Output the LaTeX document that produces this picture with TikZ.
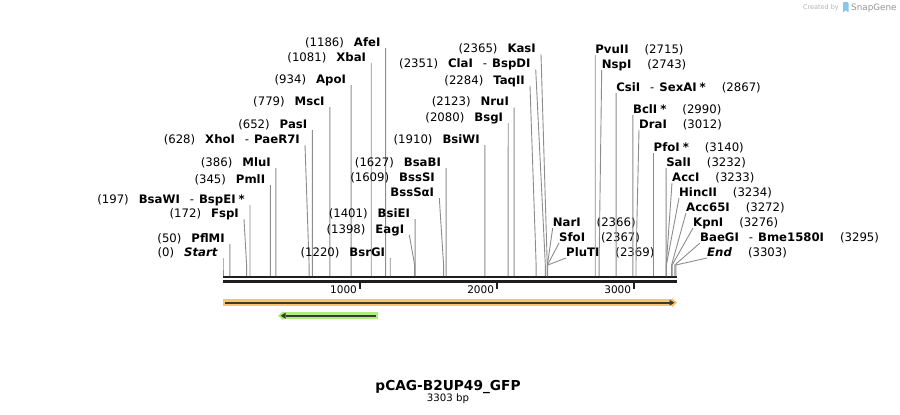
\documentclass[tikz,border=0pt]{standalone}
\usepackage{fontspec}
\setmainfont{DejaVu Sans}
\usepackage{tikz}
\usetikzlibrary{positioning}
\usetikzlibrary{arrows.meta}
\definecolor{mapblack}{HTML}{1E1E1E}
\definecolor{cutgray}{HTML}{8C8C8C}
\definecolor{orangeglow}{HTML}{F9C46C}
\definecolor{greenglow}{HTML}{A9EF7F}
\definecolor{featline}{HTML}{3C3A32}
\definecolor{snapblue}{HTML}{86C5EE}
\newcommand{\alsocut}{\hspace{10pt}\textmd{-}\hspace{5pt}}
\newcommand{\starred}{\hspace{3pt}*}
\tikzstyle{leftsite}=[anchor=base east,inner xsep=5pt,inner ysep=0pt,font=\fontsize{11.7}{13}\selectfont]
\tikzstyle{rightsite}=[anchor=base west,inner sep=0pt,font=\fontsize{11.7}{13}\selectfont]
\tikzstyle{cutline}=[draw=cutgray,line width=0.9pt]
\tikzstyle{strand}=[draw=mapblack]
\tikzstyle{scalelabel}=[anchor=base east,inner sep=0pt,font=\fontsize{10.5}{12}\selectfont]
\tikzstyle{glow}=[line width=6.5pt,-{Triangle[length=5pt,width=9pt,line width=0pt]}]
\tikzstyle{featarrow}=[draw=featline,line width=1.8pt,-{Triangle[length=5pt,width=6pt,line width=0pt]}]

\begin{document}
\begin{tikzpicture}[x=1pt,y=-1pt]
\useasboundingbox (0,0) rectangle (900,415);

    % credit in the corner
    \node[anchor=east,inner sep=0pt,text=black!30,font=\fontsize{6.5}{8}\selectfont] (credit) at (839,8) {Created by};
    \fill[snapblue,rounded corners=0.8pt] (843,2) -- (848.5,2) -- (848.5,12.5) -- (845.7,10) -- (843,12.5) -- cycle;
    \node[anchor=west,inner sep=0pt,text=black!42,font=\fontsize{8.8}{10}\selectfont] (snapgene) at (851,8) {SnapGene};

    % the sequence line and its scale
    \coordinate (b0) at (223,277);
    \coordinate (b1) at (676.5,277);
    \draw[strand,line width=2.2pt] (b0) -- (b1);
    \draw[strand,line width=3pt] ([yshift=-4.3pt]b0) -- ([yshift=-4.3pt]b1);
    \foreach \k in {1000,2000,3000}{
        \coordinate (t\k) at ({223+0.1371*\k},282);
        \draw[strand,line width=1.8pt] (t\k) -- ++(0,7);
        \node[scalelabel] (n\k) at ([shift={(-3pt,-11pt)}]t\k) {\k};
    }

    % cut sites with the label on the left of the line
    \foreach \pos/\name/\bp/\enz in {{(385.6,46)/afe/1186/AfeI}, {(371.2,61)/xba/1081/XbaI}, {(351.1,83)/apo/934/ApoI}, {(329.8,105)/msc/779/MscI}, {(312.4,128)/pas/652/PasI}, {(305,143)/xho/628/{XhoI\alsocut PaeR7I}}, {(275.9,166)/mlu/386/MluI}, {(270.3,183)/pml/345/PmlI}, {(250,203)/bsaw/197/{BsaWI\alsocut BspEI\starred}}, {(244,217)/fsp/172/FspI}, {(229.9,242)/pflm/50/PflMI}, {(223,256)/start/0/{\textit{Start}}}, {(446.1,166)/bsab/1627/BsaBI}, {(415.1,217)/bsie/1401/BsiEI}, {(409.3,233)/eag/1398/EagI}, {(390.3,256)/bsrg/1220/BsrGI}, {(484.9,143)/bsiw/1910/BsiWI}, {(508.2,121)/bsg/2080/BsgI}, {(514.1,105.7)/nru/2123/NruI}, {(530,84)/taq/2284/TaqII}, {(535.7,67.3)/cla/2351/{ClaI\alsocut BspDI}}, {(541,52.3)/kas/2365/KasI}}{
        \node[leftsite] (l\name) at \pos {(\bp)\hspace{10pt}\textbf{\enz}};
        \coordinate (k\name) at ({223+0.1371*\bp},265);
        \coordinate (s\name) at ({223+0.1371*\bp},276);
        \draw[cutline] ([yshift=-2pt]l\name.base east) -- (k\name) -- (s\name);
    }

    % two names on one site
    \node[leftsite] (lbsss) at (440,181) {(1609)\hspace{10pt}\textbf{BssSI}};
    \node[leftsite] (lbsssa) at (439.3,196) {\textbf{BssSαI}};
    \coordinate (kbsssa) at ({223+0.1371*1609},265);
    \coordinate (sbsssa) at ({223+0.1371*1609},276);
    \draw[cutline] ([yshift=-2pt]lbsssa.base east) -- (kbsssa) -- (sbsssa);

    % cut sites with the label on the right of the line
    \foreach \pos/\name/\bp/\enz in {{(552.7,226)/nar/2366/NarI}, {(559,241)/sfo/2367/SfoI}, {(566,256)/plut/2369/PluTI}, {(595.2,53)/pvu/2715/PvuII}, {(601.7,68)/nsp/2743/NspI}, {(616.1,91)/csi/2867/{CsiI\alsocut SexAI\starred}}, {(632.9,113)/bcl/2990/{BclI\starred}}, {(639,128)/dra/3012/DraI}, {(653.5,151)/pfo/3140/{PfoI\starred}}, {(666.1,166)/sal/3232/SalI}, {(672,181)/acc/3233/AccI}, {(679,196)/hinc/3234/HincII}, {(686,211)/accsf/3272/Acc65I}, {(693,226)/kpn/3276/KpnI}, {(700,241)/baeg/3295/{BaeGI\alsocut Bme1580I}}, {(707,256)/end/3303/{\textit{End}}}}{
        \node[rightsite] (r\name) at \pos {\textbf{\enz}\hspace{16pt}(\bp)};
        \coordinate (k\name) at ({223+0.1371*\bp},265);
        \coordinate (s\name) at ({223+0.1371*\bp},276);
        \draw[cutline] ([yshift=-2pt]r\name.base west) -- (k\name) -- (s\name);
    }

    % features
    \coordinate (o0) at (223,302.7);
    \coordinate (o1) at (677,302.7);
    \draw[glow,draw=orangeglow] (o0) -- (o1);
    \draw[featarrow] ([xshift=2pt]o0) -- ([xshift=-2.5pt]o1);
    \coordinate (g0) at (377.7,315.7);
    \coordinate (g1) at (278,315.7);
    \draw[glow,draw=greenglow] (g0) -- (g1);
    \draw[featarrow] ([xshift=-2pt]g0) -- ([xshift=2.5pt]g1);

    % name and size
    \node[anchor=base,inner sep=0pt,font=\fontsize{13.7}{16}\bfseries] (title) at (448,390) {pCAG-B2UP49\_GFP};
    \node[anchor=base,inner sep=0pt,font=\fontsize{10.2}{12}\selectfont] (size) at (448,401.7) {3303 bp};

\end{tikzpicture}
\end{document}
